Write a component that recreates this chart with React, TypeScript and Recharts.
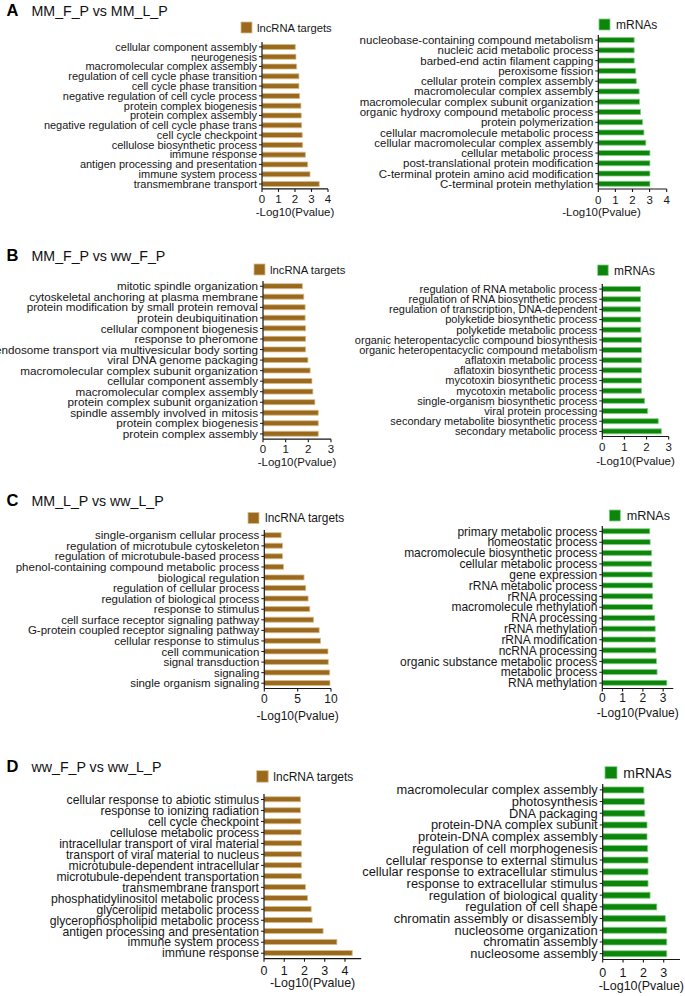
import React from "react";
import { Bar, BarChart, XAxis, YAxis } from "recharts";

// GO enrichment, -Log10(Pvalue) (top bar first)
const aLncNames = [
	"cellular component assembly",
	"neurogenesis",
	"macromolecular complex assembly",
	"regulation of cell cycle phase transition",
	"cell cycle phase transition",
	"negative regulation of cell cycle process",
	"protein complex biogenesis",
	"protein complex assembly",
	"negative regulation of cell cycle phase trans",
	"cell cycle checkpoint",
	"cellulose biosynthetic process",
	"immune response",
	"antigen processing and presentation",
	"immune system process",
	"transmembrane transport",
];
const aLncValues = [2.02, 2.06, 2.1, 2.24, 2.24, 2.28, 2.36, 2.38, 2.4, 2.44, 2.46, 2.63, 2.77, 2.91, 3.47];

const aMrnaNames = [
	"nucleobase-containing compound metabolism",
	"nucleic acid metabolic process",
	"barbed-end actin filament capping",
	"peroxisome fission",
	"cellular protein complex assembly",
	"macromolecular complex assembly",
	"macromolecular complex subunit organization",
	"organic hydroxy compound metabolic process",
	"protein polymerization",
	"cellular macromolecule metabolic process",
	"cellular macromolecular complex assembly",
	"cellular metabolic process",
	"post-translational protein modification",
	"C-terminal protein amino acid modification",
	"C-terminal protein methylation",
];
const aMrnaValues = [2.1, 2.1, 2.1, 2.18, 2.22, 2.39, 2.41, 2.47, 2.59, 2.67, 2.78, 3.02, 3.02, 3.02, 3.02];

const bLncNames = [
	"mitotic spindle organization",
	"cytoskeletal anchoring at plasma membrane",
	"protein modification by small protein removal",
	"protein deubiquitination",
	"cellular component biogenesis",
	"response to pheromone",
	"endosome transport via multivesicular body sorting",
	"viral DNA genome packaging",
	"macromolecular complex subunit organization",
	"cellular component assembly",
	"macromolecular complex assembly",
	"protein complex subunit organization",
	"spindle assembly involved in mitosis",
	"protein complex biogenesis",
	"protein complex assembly",
];
const bLncValues = [1.74, 1.8, 1.86, 1.86, 1.88, 1.88, 1.88, 1.98, 2.08, 2.16, 2.2, 2.29, 2.44, 2.44, 2.44];

const bMrnaNames = [
	"regulation of RNA metabolic process",
	"regulation of RNA biosynthetic process",
	"regulation of transcription, DNA-dependent",
	"polyketide biosynthetic process",
	"polyketide metabolic process",
	"organic heteropentacyclic compound biosynthesis",
	"organic heteropentacyclic compound metabolism",
	"aflatoxin metabolic process",
	"aflatoxin biosynthetic process",
	"mycotoxin biosynthetic process",
	"mycotoxin metabolic process",
	"single-organism biosynthetic process",
	"viral protein processing",
	"secondary metabolite biosynthetic process",
	"secondary metabolic process",
];
const bMrnaValues = [1.73, 1.73, 1.73, 1.74, 1.74, 1.77, 1.77, 1.77, 1.77, 1.77, 1.77, 1.91, 2.05, 2.53, 2.67];

const cLncNames = [
	"single-organism cellular process",
	"regulation of microtubule cytoskeleton",
	"regulation of microtubule-based process",
	"phenol-containing compound metabolic process",
	"biological regulation",
	"regulation of cellular process",
	"regulation of biological process",
	"response to stimulus",
	"cell surface receptor signaling pathway",
	"G-protein coupled receptor signaling pathway",
	"cellular response to stimulus",
	"cell communication",
	"signal transduction",
	"signaling",
	"single organism signaling",
];
const cLncValues = [2.53, 2.73, 2.73, 2.88, 5.96, 6.21, 6.57, 6.82, 7.37, 8.23, 8.43, 9.55, 9.6, 9.8, 9.85];

const cMrnaNames = [
	"primary metabolic process",
	"homeostatic process",
	"macromolecule biosynthetic process",
	"cellular metabolic process",
	"gene expression",
	"rRNA metabolic process",
	"rRNA processing",
	"macromolecule methylation",
	"RNA processing",
	"rRNA methylation",
	"rRNA modification",
	"ncRNA processing",
	"organic substance metabolic process",
	"metabolic process",
	"RNA methylation",
];
const cMrnaValues = [2.34, 2.36, 2.43, 2.43, 2.46, 2.48, 2.48, 2.48, 2.59, 2.61, 2.61, 2.64, 2.67, 2.7, 3.18];

const dLncNames = [
	"cellular response to abiotic stimulus",
	"response to ionizing radiation",
	"cell cycle checkpoint",
	"cellulose metabolic process",
	"intracellular transport of viral material",
	"transport of viral material to nucleus",
	"microtubule-dependent intracellular",
	"microtubule-dependent transportation",
	"transmembrane transport",
	"phosphatidylinositol metabolic process",
	"glycerolipid metabolic process",
	"glycerophospholipid metabolic process",
	"antigen processing and presentation",
	"immune system process",
	"immune response",
];
const dLncValues = [1.8, 1.8, 1.82, 1.83, 1.85, 1.85, 1.85, 1.85, 2.05, 2.15, 2.33, 2.38, 2.92, 3.6, 4.36];

const dMrnaNames = [
	"macromolecular complex assembly",
	"photosynthesis",
	"DNA packaging",
	"protein-DNA complex subunit",
	"protein-DNA complex assembly",
	"regulation of cell morphogenesis",
	"cellular response to external stimulus",
	"cellular response to extracellular stimulus",
	"response to extracellular stimulus",
	"regulation of biological quality",
	"regulation of cell shape",
	"chromatin assembly or disassembly",
	"nucleosome organization",
	"chromatin assembly",
	"nucleosome assembly",
];
const dMrnaValues = [2.02, 2.05, 2.07, 2.18, 2.18, 2.21, 2.23, 2.23, 2.23, 2.33, 2.66, 3.08, 3.15, 3.15, 3.15];

const headers = [
	{ letter: "A", title: "MM_F_P vs MM_L_P", y: 15.5 },
	{ letter: "B", title: "MM_F_P vs ww_F_P", y: 260.5 },
	{ letter: "C", title: "MM_L_P vs ww_L_P", y: 505.5 },
	{ letter: "D", title: "ww_F_P vs ww_L_P", y: 771.5 },
];

const FONT = "'Liberation Sans', Arial, Helvetica, sans-serif";
const INK = "#161616";
const BROWN = "#9a691d";
const BROWN_EDGE = "#d6bd8a";
const GREEN = "#0b860b";
const GREEN_EDGE = "#86cc86";

type PanelCfg = {
	names: string[];
	values: number[];
	fill: string;
	edge: string;
	left: number;
	axisX: number;
	plotTop: number;
	plotBottom: number;
	plotRight: number;
	domain: [number, number];
	ticks: number[];
	labelFont: number;
	tickFont: number;
	tickY: number;
	titleY: number;
	titleDx?: number;
	legend: { label: string; x: number; y: number; size: number; textX: number; font: number };
};

const panels: PanelCfg[] = [
	{
		names: aLncNames, values: aLncValues, fill: BROWN, edge: BROWN_EDGE,
		left: 0, axisX: 262, plotTop: 41.6, plotBottom: 188.5, plotRight: 328,
		domain: [0, 4], ticks: [0, 1, 2, 3, 4], labelFont: 11, tickFont: 11.5, tickY: 199, titleY: 212,
		legend: { label: "lncRNA targets", x: 241, y: 22, size: 11, textX: 257, font: 11.2 },
	},
	{
		names: aMrnaNames, values: aMrnaValues, fill: GREEN, edge: GREEN_EDGE,
		left: 335, axisX: 598.3, plotTop: 35, plotBottom: 189, plotRight: 666.7,
		domain: [0, 4], ticks: [0, 1, 2, 3, 4], labelFont: 11.5, tickFont: 11.5, tickY: 200, titleY: 212, titleDx: -31,
		legend: { label: "mRNAs", x: 599, y: 19, size: 11, textX: 616, font: 12 },
	},
	{
		names: bLncNames, values: bLncValues, fill: BROWN, edge: BROWN_EDGE,
		left: 0, axisX: 263, plotTop: 281.3, plotBottom: 439.5, plotRight: 331,
		domain: [0, 3], ticks: [0, 1, 2, 3], labelFont: 11.7, tickFont: 11.5, tickY: 449, titleY: 462,
		legend: { label: "lncRNA targets", x: 254, y: 264, size: 11, textX: 270, font: 11.3 },
	},
	{
		names: bMrnaNames, values: bMrnaValues, fill: GREEN, edge: GREEN_EDGE,
		left: 335, axisX: 602.3, plotTop: 283.5, plotBottom: 436, plotRight: 668.7,
		domain: [0, 3], ticks: [0, 1, 2, 3], labelFont: 11, tickFont: 11.5, tickY: 446.7, titleY: 460.7,
		legend: { label: "mRNAs", x: 597.7, y: 265, size: 10.5, textX: 614, font: 11.9 },
	},
	{
		names: cLncNames, values: cLncValues, fill: BROWN, edge: BROWN_EDGE,
		left: 0, axisX: 264.3, plotTop: 529.5, plotBottom: 688, plotRight: 331,
		domain: [0, 10], ticks: [0, 5, 10], labelFont: 11.5, tickFont: 12, tickY: 698, titleY: 715,
		legend: { label: "lncRNA targets", x: 248, y: 512.5, size: 11, textX: 265, font: 11.9 },
	},
	{
		names: cMrnaNames, values: cMrnaValues, fill: GREEN, edge: GREEN_EDGE,
		left: 335, axisX: 602.3, plotTop: 526, plotBottom: 688.5, plotRight: 673.3,
		domain: [0, 3.5], ticks: [0, 1, 2, 3], labelFont: 12, tickFont: 12, tickY: 698.3, titleY: 713,
		legend: { label: "mRNAs", x: 609.3, y: 510, size: 11, textX: 626.7, font: 12.6 },
	},
	{
		names: dLncNames, values: dLncValues, fill: BROWN, edge: BROWN_EDGE,
		left: 0, axisX: 264, plotTop: 793.8, plotBottom: 958.5, plotRight: 361.2,
		domain: [0, 4.8], ticks: [0, 1, 2, 3, 4], labelFont: 12.2, tickFont: 12.5, tickY: 970.7, titleY: 983.3,
		legend: { label: "lncRNA targets", x: 256.7, y: 770.7, size: 11.5, textX: 273.3, font: 12 },
	},
	{
		names: dMrnaNames, values: dMrnaValues, fill: GREEN, edge: GREEN_EDGE,
		left: 335, axisX: 602.7, plotTop: 784, plotBottom: 959.5, plotRight: 680,
		domain: [0, 3.8], ticks: [0, 1, 2, 3], labelFont: 12.9, tickFont: 12.5, tickY: 972.3, titleY: 985.7,
		legend: { label: "mRNAs", x: 605, y: 766.7, size: 12, textX: 623.3, font: 14 },
	},
];

function GoPanel({ cfg }: { cfg: PanelCfg }) {
	const rows = cfg.names.map((name, i) => ({ name, value: cfg.values[i] }));
	const padTop = 4;
	const padRight = 14;
	const axisH = cfg.titleY - cfg.plotBottom + 10;
	const width = cfg.plotRight - cfg.left + padRight;
	const height = padTop + (cfg.plotBottom - cfg.plotTop) + axisH;
	const tickMargin = cfg.tickY - cfg.plotBottom - 3 - cfg.tickFont * 0.36;

	const CategoryTick = ({ x, y, payload }: any) => (
		<text
			x={x}
			y={y}
			dy="0.35em"
			textAnchor="end"
			fontSize={cfg.labelFont}
			fontFamily={FONT}
			fill={INK}
		>
			{payload.value}
		</text>
	);

	return (
		<div style={{ position: "absolute", left: cfg.left, top: cfg.plotTop - padTop }}>
			<BarChart
				width={width}
				height={height}
				data={rows}
				layout="vertical"
				margin={{ top: padTop, right: padRight, bottom: 0, left: 0 }}
				barCategoryGap="25%"
			>
				<XAxis
					type="number"
					domain={cfg.domain}
					ticks={cfg.ticks}
					interval={0}
					allowDataOverflow
					height={axisH}
					tickSize={3}
					tickMargin={tickMargin}
					axisLine={{ stroke: INK, strokeWidth: 1.2 }}
					tickLine={{ stroke: INK, strokeWidth: 1.1 }}
					tick={{ fontSize: cfg.tickFont, fontFamily: FONT, fill: INK }}
					label={{
						value: "-Log10(Pvalue)",
						position: "insideBottom",
						offset: 6,
						dx: cfg.titleDx ?? 0,
						fontSize: cfg.tickFont,
						fontFamily: FONT,
						fill: INK,
					}}
				/>
				<YAxis
					type="category"
					dataKey="name"
					width={cfg.axisX - cfg.left}
					interval={0}
					tickSize={3}
					tickMargin={2}
					axisLine={{ stroke: INK, strokeWidth: 1.2 }}
					tickLine={{ stroke: INK, strokeWidth: 1 }}
					tick={CategoryTick}
				/>
				<Bar
					dataKey="value"
					fill={cfg.fill}
					stroke={cfg.edge}
					strokeWidth={0.8}
					isAnimationActive={false}
				/>
			</BarChart>
		</div>
	);
}

export default function App() {
	return (
		<div
			style={{
				position: "absolute",
				left: 0,
				top: 0,
				width: 685,
				height: 996,
				background: "#fff",
				fontFamily: FONT,
			}}
		>
			{panels.map((p, i) => (
				<GoPanel key={i} cfg={p} />
			))}
			<svg
				width={685}
				height={996}
				style={{ position: "absolute", left: 0, top: 0, pointerEvents: "none" }}
			>
				{headers.map((h) => (
					<g key={h.letter}>
						<text x={6.5} y={h.y} fontSize={16.5} fontWeight="bold" fontFamily={FONT} fill="#000">
							{h.letter}
						</text>
						<text x={31.5} y={h.y + 0.3} fontSize={14.2} fontFamily={FONT} fill="#111">
							{h.title}
						</text>
					</g>
				))}
				{panels.map((p, i) => (
					<g key={i}>
						<rect
							x={p.legend.x}
							y={p.legend.y}
							width={p.legend.size}
							height={p.legend.size}
							fill={p.fill}
							stroke={p.edge}
							strokeWidth={0.8}
						/>
						<text
							x={p.legend.textX}
							y={p.legend.y + p.legend.size / 2 + p.legend.font * 0.36}
							fontSize={p.legend.font}
							fontFamily={FONT}
							fill={INK}
						>
							{p.legend.label}
						</text>
					</g>
				))}
			</svg>
		</div>
	);
}
